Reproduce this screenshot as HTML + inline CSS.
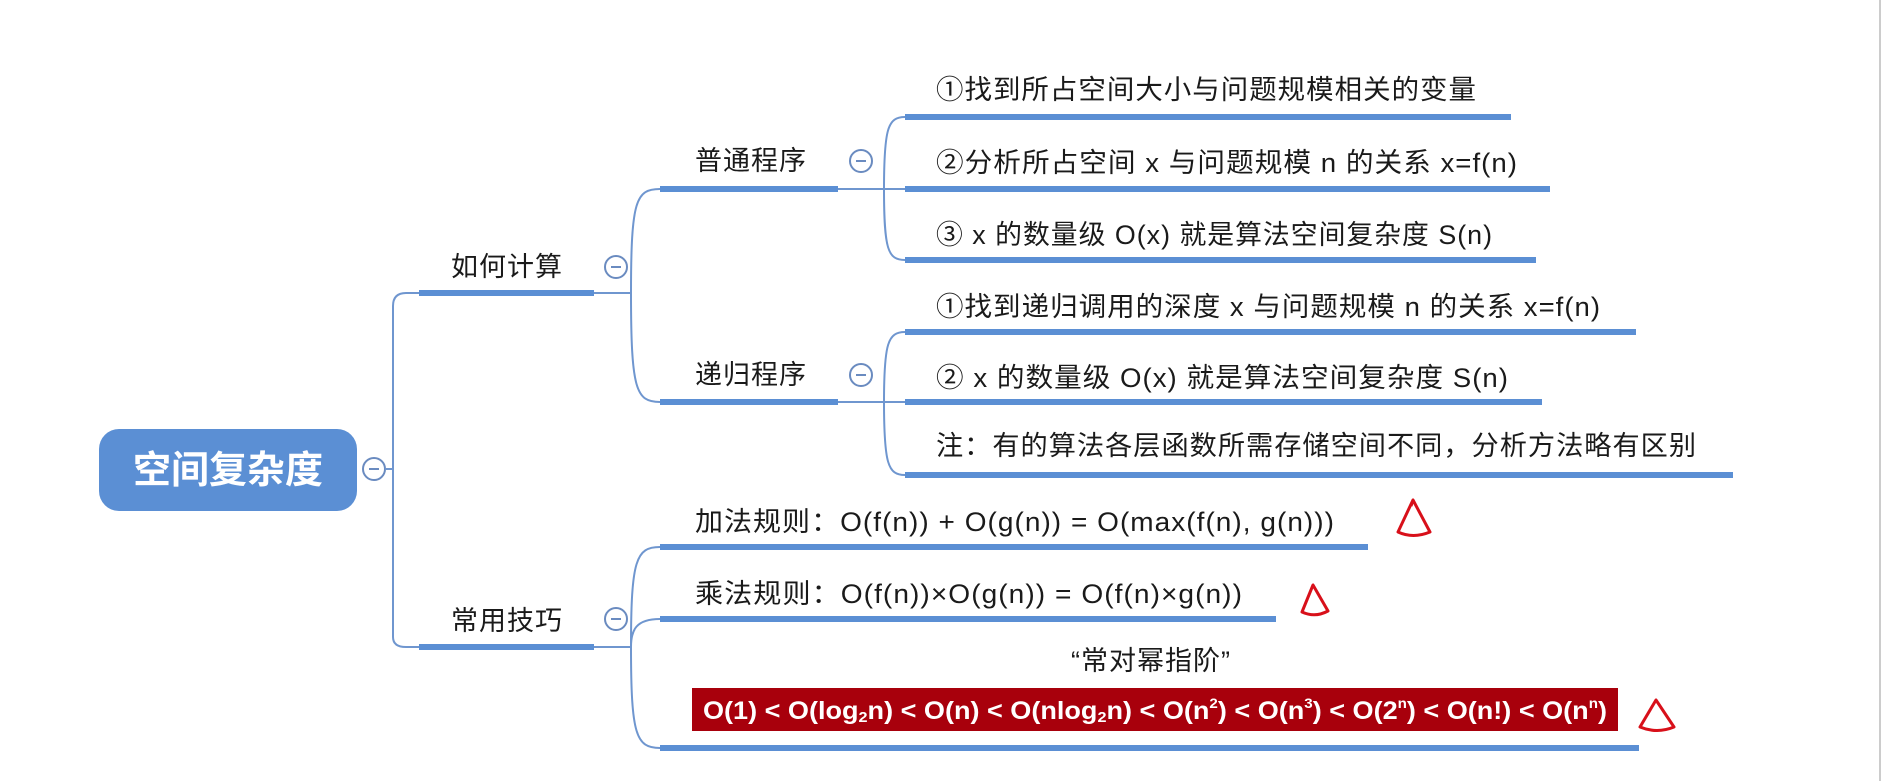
<!DOCTYPE html>
<html><head><meta charset="utf-8"><style>
html,body{margin:0;padding:0;background:#fff;width:1886px;height:781px;overflow:hidden}
svg text{font-family:"Liberation Sans","Noto Sans CJK SC",sans-serif;fill:#1a1a1a}
</style></head><body>
<svg width="1886" height="781" viewBox="0 0 1886 781" xmlns="http://www.w3.org/2000/svg">
<line x1="1880" y1="0" x2="1880" y2="781" stroke="#ccc" stroke-width="2"/>
<rect x="99" y="429" width="258" height="82" rx="20" fill="#5b8fd4"/>
<text x="228" y="471" font-size="38" font-weight="bold" text-anchor="middle" dominant-baseline="central" style="fill:#fff">空间复杂度</text>
<g fill="#fff" stroke="#6a8bc0" stroke-width="2">
<circle cx="374" cy="469" r="11"/><circle cx="616" cy="267" r="11"/><circle cx="616" cy="619" r="11"/>
<circle cx="861" cy="161" r="11"/><circle cx="861" cy="375" r="11"/>
</g>
<g stroke="#6a8bc0" stroke-width="2"><line x1="369" y1="469" x2="379" y2="469"/><line x1="611" y1="267" x2="621" y2="267"/><line x1="611" y1="619" x2="621" y2="619"/><line x1="856" y1="161" x2="866" y2="161"/><line x1="856" y1="375" x2="866" y2="375"/></g>
<g fill="none" stroke="#6f96cf" stroke-width="2">
<path d="M385 469 H393 M393 469 V306 Q393 293 406 293 H419 M393 469 V637 Q393 647 406 647 H419"/>
<path d="M594 293 H631 M631 293 C631 200 636 189 660 189 M631 293 C631 390 636 402 660 402"/>
<path d="M594 647 H631 M631 647 C631 560 636 547 660 547 M631 647 C631 630 636 619 660 619 M631 647 C631 735 636 748 660 748"/>
<path d="M838 189 H884 M884 189 C884 128 888 117 905 117 M884 189 H905 M884 189 C884 250 888 260 905 260"/>
<path d="M838 402 H884 M884 402 C884 343 888 332 905 332 M884 402 H905 M884 402 C884 464 888 475 905 475"/>
</g>
<g stroke="#5b8fd4" stroke-width="6">
<line x1="419" y1="293" x2="594" y2="293"/><line x1="419" y1="647" x2="594" y2="647"/>
<line x1="660" y1="189" x2="838" y2="189"/><line x1="660" y1="402" x2="838" y2="402"/>
<line x1="905" y1="117" x2="1511" y2="117"/><line x1="905" y1="189" x2="1550" y2="189"/><line x1="905" y1="260" x2="1536" y2="260"/>
<line x1="905" y1="332" x2="1636" y2="332"/><line x1="905" y1="402" x2="1542" y2="402"/><line x1="905" y1="475" x2="1733" y2="475"/>
<line x1="660" y1="547" x2="1368" y2="547"/><line x1="660" y1="619" x2="1276" y2="619"/><line x1="660" y1="748" x2="1639" y2="748"/>
</g>
<g font-size="27" dominant-baseline="central" letter-spacing="1">
<text x="451" y="267">如何计算</text>
<text x="451" y="621">常用技巧</text>
<text x="695" y="161">普通程序</text>
<text x="695" y="375">递归程序</text>
<text x="936" y="90" textLength="541" lengthAdjust="spacingAndGlyphs">①找到所占空间大小与问题规模相关的变量</text>
<text x="936" y="163" textLength="582" lengthAdjust="spacingAndGlyphs">②分析所占空间 x 与问题规模 n 的关系 x=f(n)</text>
<text x="936" y="235" textLength="557" lengthAdjust="spacingAndGlyphs">③ x 的数量级 O(x) 就是算法空间复杂度 S(n)</text>
<text x="936" y="307" textLength="665" lengthAdjust="spacingAndGlyphs">①找到递归调用的深度 x 与问题规模 n 的关系 x=f(n)</text>
<text x="936" y="378" textLength="573" lengthAdjust="spacingAndGlyphs">②  x 的数量级 O(x) 就是算法空间复杂度 S(n)</text>
<text x="936" y="446" textLength="761" lengthAdjust="spacingAndGlyphs">注：有的算法各层函数所需存储空间不同，分析方法略有区别</text>
<text x="695" y="522" textLength="640" lengthAdjust="spacingAndGlyphs">加法规则：O(f(n)) + O(g(n)) = O(max(f(n), g(n)))</text>
<text x="695" y="594" textLength="548" lengthAdjust="spacingAndGlyphs">乘法规则：O(f(n))×O(g(n)) = O(f(n)×g(n))</text>
<text x="1151" y="661" text-anchor="middle">“常对幂指阶”</text>
</g>
<rect x="692" y="688" width="926" height="43" fill="#a8000c"/>
<text x="703" y="711" font-size="25" font-weight="bold" dominant-baseline="central" textLength="904" lengthAdjust="spacingAndGlyphs" style="fill:#fff">O(1) &lt; O(log<tspan font-size="15" dy="6">2</tspan><tspan dy="-6">n) &lt; O(n) &lt; O(nlog</tspan><tspan font-size="15" dy="6">2</tspan><tspan dy="-6">n) &lt; O(n</tspan><tspan font-size="14" dy="-8">2</tspan><tspan dy="8">) &lt; O(n</tspan><tspan font-size="14" dy="-8">3</tspan><tspan dy="8">) &lt; O(2</tspan><tspan font-size="14" dy="-8">n</tspan><tspan dy="8">) &lt; O(n!) &lt; O(n</tspan><tspan font-size="14" dy="-8">n</tspan><tspan dy="8">)</tspan></text>
<g fill="none" stroke="#d8101a" stroke-width="3" stroke-linejoin="round">
<path d="M1413 500 L1398 532 Q1413 539 1430 532 Z M1413 500 L1411 506"/>
<path d="M1313 585 L1302 612 Q1315 618 1328 611 Z"/>
<path d="M1656 700 L1640 727 Q1657 734 1674 727 Z"/>
</g>
</svg>
</body></html>
